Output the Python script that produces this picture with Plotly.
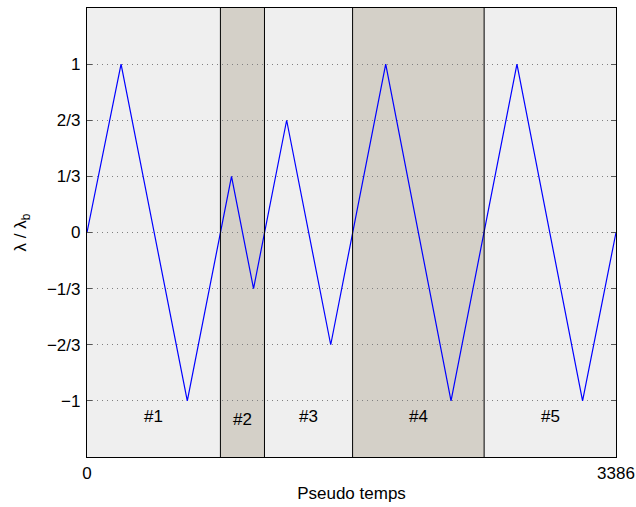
import plotly.graph_objects as go

# vertices of the lambda / lambda_b path (pseudo time, ratio)
pseudo_t = [0, 218, 642, 925, 1066, 1278, 1560, 1912, 2330, 2752, 3172, 3386]
ratio = [0, 1, -1, 1 / 3, -1 / 3, 2 / 3, -2 / 3, 1, -1, 1, -1, 0]

# cycle boundaries and labels
bounds = [0, 854, 1136, 1700, 2542, 3386]
cycle_labels = ["#1", "#2", "#3", "#4", "#5"]
label_y = [-1.09, -1.11, -1.09, -1.09, -1.09]
cycle_colors = ["#efefef", "#d4d0c8", "#efefef", "#d4d0c8", "#efefef"]

ytick_vals = [-1, -2 / 3, -1 / 3, 0, 1 / 3, 2 / 3, 1]
ytick_text = ["\u22121", "\u22122/3", "\u22121/3", "0", "1/3", "2/3", "1"]
xtick_vals = [0, 3386]

FONT = "Liberation Sans, Arial, sans-serif"

fig = go.Figure()

shapes = []
for i, col in enumerate(cycle_colors):
    shapes.append(dict(
        type="rect", xref="x", yref="paper",
        x0=bounds[i], x1=bounds[i + 1], y0=0, y1=1,
        fillcolor=col, line=dict(width=0), layer="below",
    ))
for b in bounds[1:-1]:
    shapes.append(dict(
        type="line", xref="x", yref="paper",
        x0=b, x1=b, y0=0, y1=1,
        line=dict(color="black", width=1), layer="above",
    ))

fig.add_trace(go.Scatter(
    x=pseudo_t, y=ratio, mode="lines",
    line=dict(color="#0000ff", width=1.2),
    showlegend=False, hoverinfo="x+y",
))

annotations = []
for i, lab in enumerate(cycle_labels):
    annotations.append(dict(
        x=(bounds[i] + bounds[i + 1]) / 2, y=label_y[i],
        xref="x", yref="y", text=lab, showarrow=False,
        font=dict(size=17, color="black", family=FONT),
    ))

fig.update_layout(
    width=636, height=507,
    margin=dict(l=87, r=20, t=8, b=50, autoexpand=False),
    paper_bgcolor="white", plot_bgcolor="#efefef",
    font=dict(family=FONT, size=17, color="black"),
    shapes=shapes, annotations=annotations,
    showlegend=False,
)
fig.update_xaxes(
    range=[0, 3386], tickvals=xtick_vals, ticktext=["0", "3386"],
    showgrid=False, zeroline=False, automargin=False,
    showline=True, linecolor="black", linewidth=1.2, mirror=True,
    ticks="", ticklabelstandoff=0,
    title=dict(text="Pseudo temps", font=dict(size=17), standoff=5),
)
fig.update_yaxes(
    range=[-4 / 3, 4 / 3], tickvals=ytick_vals, ticktext=ytick_text,
    showgrid=True, gridcolor="#808080", griddash="1px,4px", gridwidth=1,
    zeroline=False, automargin=False,
    showline=True, linecolor="black", linewidth=1.2, mirror="ticks",
    ticks="inside", ticklen=5, tickcolor="#555555",
    ticklabelstandoff=2,
    title=dict(text="\u03bb / \u03bb<sub>b</sub>", font=dict(size=17), standoff=15),
)

# drop the browser's default body margin so the figure sits at the page corner
fig.write_html(
    "out.html",
    config={"displayModeBar": False},
    post_script="document.body.style.margin = '0';",
)
